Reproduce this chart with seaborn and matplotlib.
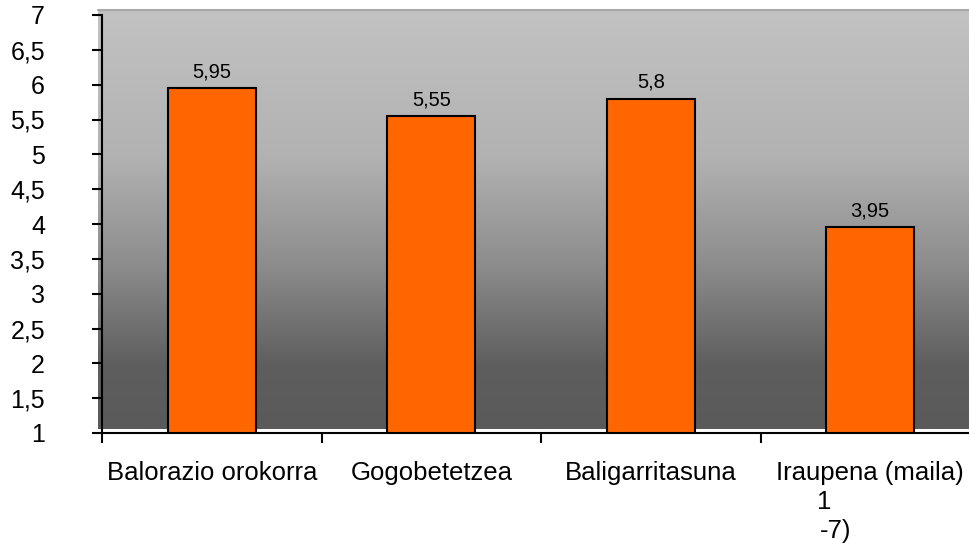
import matplotlib
matplotlib.use("Agg")
import matplotlib.pyplot as plt
import seaborn as sns
import numpy as np
from matplotlib.colors import LinearSegmentedColormap

categories = ["Balorazio orokorra", "Gogobetetzea", "Baligarritasuna", "Iraupena (maila)"]
values = [5.95, 5.55, 5.8, 3.95]
value_labels = ["5,95", "5,55", "5,8", "3,95"]
ytick_values = [1, 1.5, 2, 2.5, 3, 3.5, 4, 4.5, 5, 5.5, 6, 6.5, 7]
ytick_labels = ["1", "1,5", "2", "2,5", "3", "3,5", "4", "4,5", "5", "5,5", "6", "6,5", "7"]

sns.set_style("white")
plt.rcParams["font.family"] = ["Liberation Sans", "DejaVu Sans"]
plt.rcParams["text.color"] = "black"
plt.rcParams["xtick.color"] = "black"
plt.rcParams["ytick.color"] = "black"

fig = plt.figure(figsize=(9.69, 5.47), dpi=100)
ax = fig.add_axes([102 / 969, 1 - 433 / 547, 878 / 969, 418 / 547])

# gradient background (light top, dark bottom)
grad = LinearSegmentedColormap.from_list(
    "bg", [(0, "#c2c2c2"), (0.35, "#b2b2b2"), (0.6, "#8e8e8e"), (0.85, "#5e5e5e"), (1, "#5a5a5a")])
ax.imshow(np.linspace(0, 1, 256).reshape(-1, 1), cmap=grad, aspect="auto",
          extent=(-0.52, 3.55, 1.06, 7.07), origin="upper", zorder=0, clip_on=False)
ax.plot([-0.52, 3.55], [7.07, 7.07], color="#a8a8a8", lw=1.5, clip_on=False, zorder=1)

sns.barplot(x=categories, y=values, color="#FF6600", width=0.4, saturation=1,
            edgecolor="black", linewidth=1.5, ax=ax, zorder=2)

ax.set_xlim(-0.5, 3.5)
ax.set_ylim(1, 7)

for c in ax.containers:
    ax.bar_label(c, labels=value_labels, padding=5, fontsize=14.5, color="black")

ax.set_yticks(ytick_values)
ax.set_yticklabels(ytick_labels, fontsize=18)
ax.set_xticks(range(len(categories)))
ax.set_xticklabels(categories, fontsize=18.5)
ax.set_xticks(np.arange(-0.5, 4, 1), minor=True)
ax.tick_params(axis="x", which="major", bottom=True, length=0, pad=20, labelcolor="black")
ax.tick_params(axis="x", which="minor", bottom=True, length=7, width=1.5, direction="out", color="black")
ax.tick_params(axis="y", left=True, length=7, width=1.5, direction="out", color="black", pad=34,
               labelcolor="black")

# wrapped remainder of the last category label
ax.text(2.79, -0.165, "1", transform=ax.get_xaxis_transform(), ha="center", va="center", fontsize=18.5)
ax.text(2.84, -0.235, "-7)", transform=ax.get_xaxis_transform(), ha="center", va="center", fontsize=18.5)

for s in ["top", "right"]:
    ax.spines[s].set_visible(False)
for s in ["left", "bottom"]:
    ax.spines[s].set_color("black")
    ax.spines[s].set_linewidth(1.5)
    ax.spines[s].set_zorder(3)
ax.set_xlabel("")
ax.set_ylabel("")

fig.savefig("out.png", dpi=100)
